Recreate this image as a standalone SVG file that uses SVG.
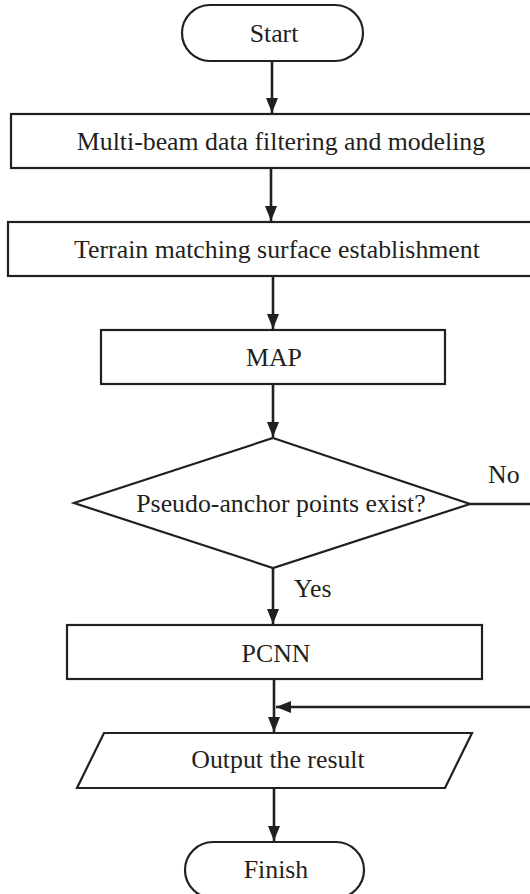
<svg xmlns="http://www.w3.org/2000/svg" width="530" height="894" viewBox="0 0 530 894">
<style>
.shape{fill:#fff;stroke:#231f20;stroke-width:2.2}
.lbl{font-family:"Liberation Serif","Times New Roman",serif;font-size:25.8px;fill:#231f20;text-anchor:middle}
.lbl2{font-family:"Liberation Serif","Times New Roman",serif;font-size:25.8px;fill:#231f20}
.conn{fill:none;stroke:#231f20;stroke-width:2.6}
</style>
<defs>
<marker id="arr" markerUnits="userSpaceOnUse" markerWidth="16" markerHeight="12" refX="15" refY="6" orient="auto">
<path d="M0,0 L15,6 L0,12 Z" fill="#231f20"/>
</marker>
</defs>
<rect width="530" height="894" fill="#fff"/>
<g id="connectors">
<line class="conn" x1="272" y1="61" x2="272" y2="113" marker-end="url(#arr)"/>
<line class="conn" x1="271" y1="168" x2="271" y2="221" marker-end="url(#arr)"/>
<line class="conn" x1="273" y1="276" x2="273" y2="329" marker-end="url(#arr)"/>
<line class="conn" x1="273" y1="384" x2="273" y2="437" marker-end="url(#arr)"/>
<line class="conn" x1="273" y1="568" x2="273" y2="624" marker-end="url(#arr)"/>
<path class="conn" d="M470,504 H535 V707 H276" marker-end="url(#arr)"/>
<line class="conn" x1="274" y1="679" x2="274" y2="732" marker-end="url(#arr)"/>
<line class="conn" x1="274" y1="788" x2="274" y2="841" marker-end="url(#arr)"/>
</g>
<g id="start">
<rect class="shape" x="182" y="5" width="181" height="56" rx="28" ry="28"/>
<text class="lbl" x="274" y="42">Start</text>
</g>
<g id="filter">
<rect class="shape" x="11" y="114" width="523" height="54"/>
<text class="lbl" x="281" y="150">Multi-beam data filtering and modeling</text>
</g>
<g id="surface">
<rect class="shape" x="8" y="222" width="526" height="54"/>
<text class="lbl" x="277" y="258">Terrain matching surface establishment</text>
</g>
<g id="map">
<rect class="shape" x="101" y="330" width="344" height="54"/>
<text class="lbl" x="274" y="366">MAP</text>
</g>
<g id="decision">
<polygon class="shape" points="273,438 470,504 273,568 74,503"/>
<text class="lbl" x="281" y="512">Pseudo-anchor points exist?</text>
</g>
<g id="pcnn">
<rect class="shape" x="67" y="625" width="415" height="54"/>
<text class="lbl" x="276" y="662">PCNN</text>
</g>
<g id="output">
<polygon class="shape" points="104,733 472,733 445,788 77,788"/>
<text class="lbl" x="278" y="768">Output the result</text>
</g>
<g id="finish">
<rect class="shape" x="185" y="842" width="179" height="56" rx="28" ry="28"/>
<text class="lbl" x="276" y="878">Finish</text>
</g>
<g id="labels">
<text class="lbl2" x="488" y="483">No</text>
<text class="lbl2" x="294" y="597">Yes</text>
</g>
</svg>
